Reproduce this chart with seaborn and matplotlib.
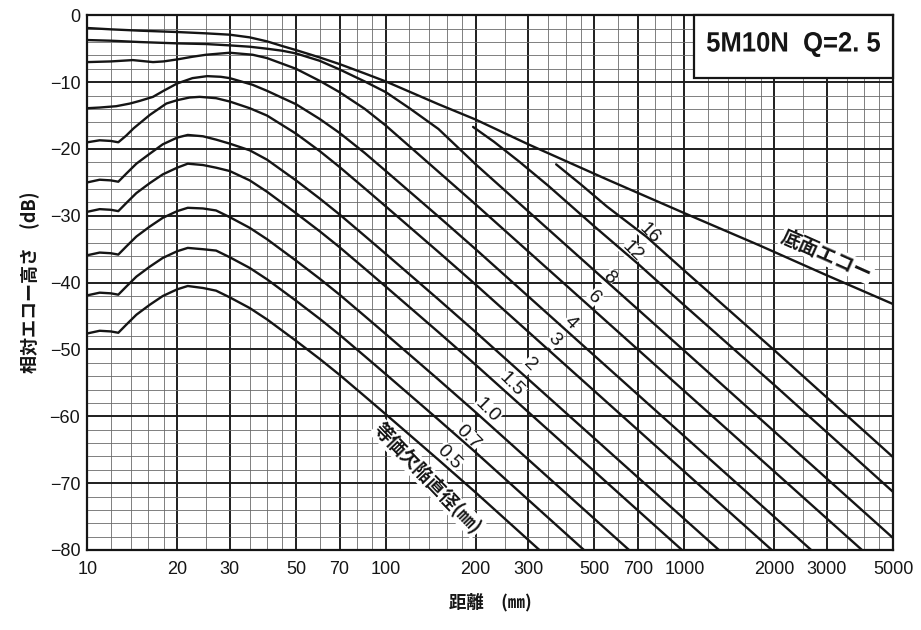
import matplotlib
matplotlib.use("Agg")
import matplotlib.pyplot as plt
import numpy as np
import pandas as pd
import seaborn as sns
from matplotlib import font_manager
from matplotlib.font_manager import FontProperties
from matplotlib.patches import Rectangle, PathPatch
from matplotlib.textpath import TextPath
from matplotlib.transforms import Affine2D
from matplotlib.ticker import FixedLocator, NullFormatter

# ---- DGS curves: distance (mm) vs relative echo height (dB) ----
distance_bwe = [10, 12, 15, 20, 25, 30, 35, 40, 45, 50, 60, 70, 85, 100, 150, 200, 300, 560, 1000, 1780, 3000, 5000]
echo_bwe = [-1.9, -2.1, -2.3, -2.5, -2.7, -2.9, -3.3, -3.9, -4.6, -5.2, -6.3, -7.3, -8.7, -9.9, -13.3, -15.6, -19.3, -24.7, -29.6, -34.4, -38.9, -43.2]

distance_d16 = [372, 450, 550, 745, 1000, 2000, 5000]
echo_d16 = [-22.3, -25.3, -28.6, -33.1, -38.2, -50.1, -66.1]

distance_d12 = [196, 230, 280, 350, 500, 700, 1000, 2000, 5000]
echo_d12 = [-16.7, -18.9, -21.9, -25.5, -31.6, -37.2, -43.4, -55.3, -71.3]

distance_d8 = [10, 12, 15, 20, 25, 30, 35, 40, 45, 50, 60, 70, 85, 100, 120, 150, 200, 500, 1000, 5000]
echo_d8 = [-3.7, -3.8, -4.0, -4.2, -4.3, -4.5, -4.7, -5.0, -5.3, -5.7, -6.8, -8.1, -9.9, -11.5, -13.9, -17.0, -22.3, -38.2, -50.2, -78.2]

distance_d6 = [10, 12, 14.2, 16.6, 18, 20, 22.5, 25, 30, 35.8, 40, 50, 60, 70, 85, 100, 150, 200, 3936]
echo_d6 = [-7.0, -6.9, -6.7, -7.0, -6.9, -6.6, -6.2, -5.9, -5.6, -5.9, -6.4, -8.0, -9.8, -11.5, -14.0, -16.5, -23.4, -28.3, -80.0]

distance_d4 = [10, 11, 12.5, 13.9, 15, 16.6, 18, 20, 22.5, 25.2, 28, 30, 35.8, 40, 50, 60, 70, 85, 100, 150, 200, 2660]
echo_d4 = [-13.9, -13.8, -13.6, -13.2, -12.8, -12.2, -11.3, -10.2, -9.4, -9.1, -9.2, -9.4, -10.4, -11.3, -13.3, -15.5, -17.6, -20.6, -23.3, -30.1, -35.0, -80.0]

distance_d3 = [10, 11, 12, 12.7, 13.5, 14.3, 16.2, 18.4, 20, 22, 23.8, 27, 30, 35, 40, 50, 60, 70, 85, 100, 150, 200, 1963]
echo_d3 = [-19.0, -18.7, -18.8, -19.0, -18.0, -16.9, -14.9, -13.2, -12.7, -12.3, -12.2, -12.4, -12.9, -13.9, -15.0, -17.7, -20.3, -22.7, -25.9, -28.6, -35.4, -40.3, -80.0]

distance_small = [10, 11, 12, 12.7, 13.5, 14.6, 16.2, 17.9, 20, 21.7, 24.4, 27, 30, 35, 40, 50, 60, 70, 85, 100, 150, 200]

echo_d2 = [-25.0, -24.6, -24.7, -24.9, -23.7, -22.2, -20.7, -19.3, -18.3, -17.9, -18.1, -18.6, -19.2, -20.2, -21.6, -24.7, -27.4, -29.8, -33.0, -35.7, -42.5, -47.4]
end_d2 = (1306, -80.0)

echo_d15 = [-29.4, -29.0, -29.1, -29.3, -28.1, -26.6, -25.1, -23.8, -22.8, -22.2, -22.4, -22.8, -23.3, -24.7, -26.4, -29.6, -32.3, -34.7, -37.9, -40.6, -47.4, -52.3]
end_d15 = (982, -80.0)

echo_d10 = [-35.9, -35.5, -35.6, -35.8, -34.6, -33.1, -31.6, -30.3, -29.3, -28.8, -28.9, -29.2, -30.2, -31.8, -33.5, -36.7, -39.4, -41.8, -45.0, -47.7, -54.5, -59.4]
end_d10 = (653, -80.0)

echo_d07 = [-41.9, -41.5, -41.6, -41.8, -40.6, -39.1, -37.6, -36.3, -35.3, -34.8, -35.0, -35.2, -36.2, -37.8, -39.5, -42.7, -45.4, -47.8, -51.0, -53.7, -60.5, -65.4]
end_d07 = (461, -80.0)

echo_d05 = [-47.6, -47.2, -47.3, -47.5, -46.3, -44.8, -43.3, -42.0, -41.0, -40.5, -40.8, -41.2, -42.2, -43.8, -45.5, -48.7, -51.4, -53.8, -57.0, -59.7, -66.5, -71.4]
end_d05 = (327, -80.0)

# curve labels: text, distance, dB
label_text = ["16", "12", "8", "6", "4", "3", "2", "1.5", "1.0", "0.7", "0.5"]
label_dist = [762, 668, 560, 499, 415, 367, 303, 264, 219, 188, 163]
label_db = [-32.6, -35.4, -39.3, -42.2, -46.0, -48.6, -52.3, -55.3, -59.1, -63.1, -66.1]

x_major = [10, 20, 30, 50, 70, 100, 200, 300, 500, 700, 1000, 2000, 3000, 5000]
x_minor = [12, 14, 16, 18, 25, 35, 40, 45, 60, 80, 90,
           120, 140, 160, 180, 250, 350, 400, 450, 600, 800, 900,
           1200, 1400, 1600, 1800, 2500, 3500, 4000, 4500]
y_major = list(range(-80, 1, 10))
y_minor = list(range(-80, 1, 2))

# ---- assemble long table ----
curves = {
    "bwe": (distance_bwe, echo_bwe),
    "16": (distance_d16, echo_d16),
    "12": (distance_d12, echo_d12),
    "8": (distance_d8, echo_d8),
    "6": (distance_d6, echo_d6),
    "4": (distance_d4, echo_d4),
    "3": (distance_d3, echo_d3),
    "2": (distance_small + [end_d2[0]], echo_d2 + [end_d2[1]]),
    "1.5": (distance_small + [end_d15[0]], echo_d15 + [end_d15[1]]),
    "1.0": (distance_small + [end_d10[0]], echo_d10 + [end_d10[1]]),
    "0.7": (distance_small + [end_d07[0]], echo_d07 + [end_d07[1]]),
    "0.5": (distance_small + [end_d05[0]], echo_d05 + [end_d05[1]]),
}
frames = []
for name, (xs, ys) in curves.items():
    frames.append(pd.DataFrame({"distance": xs, "echo": ys, "curve": name}))
df = pd.concat(frames, ignore_index=True)

# ---- style ----
sns.set_theme(style="white")
num_font = "Liberation Sans"
cjk_font = "Noto Sans CJK JP"
plt.rcParams["font.family"] = [num_font, cjk_font, "DejaVu Sans"]
plt.rcParams["axes.unicode_minus"] = True
ink = "#151515"

fig = plt.figure(figsize=(9.21, 6.3), dpi=100)
ax = fig.add_axes([0.0948, 0.127, 0.8748, 0.8487])

sns.lineplot(data=df, x="distance", y="echo", hue="curve",
             palette={k: ink for k in curves}, estimator=None,
             sort=False, units="curve", legend=False, lw=1.7, ax=ax)
for ln in ax.get_lines():
    ln.set_zorder(3)

ax.set_xscale("log")
ax.set_xlim(10, 5000)
ax.set_ylim(-80, 0)

ax.xaxis.set_major_locator(FixedLocator(x_major))
ax.set_xticklabels([str(v) for v in x_major])
ax.xaxis.set_minor_locator(FixedLocator(x_minor))
ax.xaxis.set_minor_formatter(NullFormatter())
ax.yaxis.set_major_locator(FixedLocator(y_major))
ax.set_yticklabels(["\u2212%d" % -v if v < 0 else "0" for v in y_major])
ax.yaxis.set_minor_locator(FixedLocator(y_minor))

ax.tick_params(which="both", length=0)
ax.tick_params(axis="x", labelsize=13, pad=8, colors=ink)
ax.tick_params(axis="y", labelsize=13, pad=5, colors=ink)

ax.set_axisbelow(True)
ax.grid(which="major", color="#1e1e1e", lw=1.4)
ax.grid(which="minor", color="#6a6a6a", lw=0.6)
for sp in ax.spines.values():
    sp.set_visible(True)
    sp.set_color(ink)
    sp.set_linewidth(1.6)

ax.set_xlabel("距離　(㎜)", fontsize=12.5, family=[cjk_font, "DejaVu Sans"],
              fontweight="bold", color=ink)
ax.set_ylabel("相対エコー高さ　(dB)", fontsize=13, family=[cjk_font, "DejaVu Sans"],
              fontweight="bold", color=ink)
ax.xaxis.set_label_coords(0.5, -0.080)
ax.yaxis.set_label_coords(-0.058, 0.5)

# curve labels along the far-field lines
for txt, xd, yd in zip(label_text, label_dist, label_db):
    ax.text(xd, yd, txt, rotation=-45, rotation_mode="anchor", ha="center", va="center",
            fontsize=14, color=ink, zorder=2.6,
            bbox=dict(boxstyle="square,pad=0.03", fc="white", ec="none"))

ax.text(138, -69.3, "等価欠陥直径(㎜)", rotation=-46, rotation_mode="anchor",
        ha="center", va="center", fontsize=13.5, fontweight="bold",
        family=[cjk_font, "DejaVu Sans"], color=ink, zorder=2.6,
        bbox=dict(boxstyle="square,pad=0.05", fc="white", ec="none"))
ax.text(3000, -35.9, "底面エコー", rotation=-24, rotation_mode="anchor",
        ha="center", va="center", fontsize=14, fontweight="bold",
        family=[cjk_font, "DejaVu Sans"], color=ink, zorder=2.6,
        bbox=dict(boxstyle="square,pad=0.05", fc="white", ec="none"))

# probe designation box
ax.add_patch(Rectangle((0.753, 0.883), 0.247, 0.117, transform=ax.transAxes,
                       fc="white", ec=ink, lw=1.6, zorder=4, clip_on=False))

# condensed title lettering: glyph outlines squeezed horizontally into the box
title_path = TextPath((0, 0), "5M10N  Q=2. 5", size=1,
                      prop=FontProperties(family="Liberation Sans", weight="bold"))
ext = title_path.get_extents()
fig_h_px = fig.get_figheight() * fig.dpi
title_w_px, title_h_px = 173.0, 25.0
title_left_px, title_top_px = 707.0, 32.0
title_tf = (Affine2D()
            .translate(-ext.x0, -ext.y0)
            .scale(title_w_px / ext.width, title_h_px / ext.height)
            .translate(title_left_px, fig_h_px - title_top_px - title_h_px))
fig.add_artist(PathPatch(title_path, transform=title_tf, fc=ink, ec="none", zorder=6))

fig.savefig("out.png", dpi=100)
